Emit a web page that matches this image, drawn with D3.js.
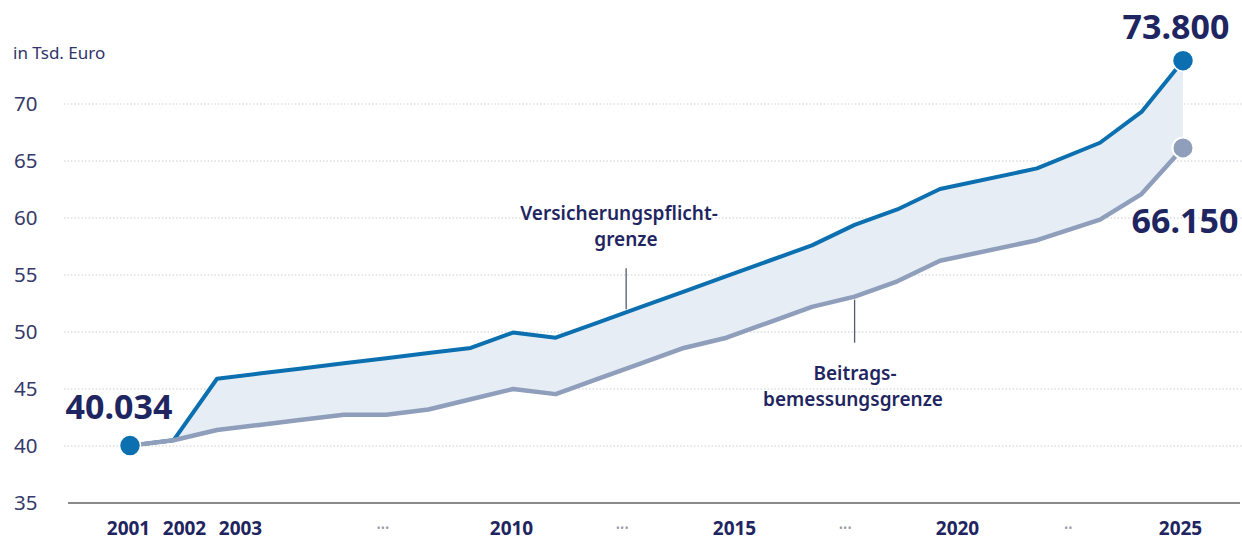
<!DOCTYPE html>
<html>
<head>
<meta charset="utf-8">
<script src="https://cdn.jsdelivr.net/npm/d3@7"></script>
<style>
  html, body { margin: 0; padding: 0; background: #fff; }
  svg { display: block; font-family: "Noto Sans", "Open Sans", sans-serif; }
</style>
</head>
<body>
<svg id="chart"></svg>
<script>
// Daten (in Tsd. Euro)
const years = [2001, 2002, 2003, 2004, 2005, 2006, 2007, 2008, 2009, 2010, 2011, 2012,
  2013, 2014, 2015, 2016, 2017, 2018, 2019, 2020, 2022, 2023, 2024, 2025]
const versicherungspflicht = [40.034, 40.5, 45.9, 46.35, 46.8, 47.25, 47.7, 48.15, 48.6, 49.95, 49.5, 50.85,
  52.2, 53.55, 54.9, 56.25, 57.6, 59.4, 60.75, 62.55, 64.35, 66.6, 69.3, 73.8]
const beitragsbemessung = [40.034, 40.5, 41.4, 41.85, 42.3, 42.75, 42.75, 43.2, 44.1, 45.0, 44.55, 45.9,
  47.25, 48.6, 49.5, 50.85, 52.2, 53.1, 54.45, 56.25, 58.05, 59.85, 62.1, 66.15]
const yTicks = [35, 40, 45, 50, 55, 60, 65, 70]
const xTickLabels = [2001, 2002, 2003, 2010, 2015, 2020, 2025]
const gapMarks = [[2006.7, "•••"], [2012.5, "•••"], [2017.5, "•••"], [2022.5, "••"]]

const width = 1242
const height = 540
const navy = "#1e2560"
const blue = "#0b6fb0"
const grey = "#8e9ebb"

const data = years.map((y, i) => ({year: y, v: versicherungspflicht[i], b: beitragsbemessung[i]}))

// Skalen
const x = d3.scaleLinear()
  .domain([2001, 2003, 2010, 2020, 2022, 2023, 2025])
  .range([130, 217, 513, 940, 1037, 1100, 1183])

const xLabel = d3.scaleLinear()
  .domain([2001, 2003, 2010, 2025])
  .range([128, 240, 511, 1180])

const y = d3.scaleLinear()
  .domain([35, 70])
  .range([503, 104])

const svg = d3.select("#chart")
  .attr("width", width)
  .attr("height", height)
  .attr("viewBox", [0, 0, width, height])

// Gitterlinien
svg.append("g")
  .selectAll("line")
  .data(yTicks.filter(d => d > 35))
  .join("line")
  .attr("x1", 64)
  .attr("x2", width)
  .attr("y1", d => y(d))
  .attr("y2", d => y(d))
  .attr("stroke", "#c9cdd6")
  .attr("stroke-width", 1)
  .attr("stroke-dasharray", "1.5,2")

// Y-Achse
svg.append("g")
  .selectAll("text")
  .data(yTicks)
  .join("text")
  .attr("x", 14)
  .attr("y", d => y(d))
  .attr("dy", "0.35em")
  .attr("fill", "#353a6a")
  .attr("font-size", 20.5)
  .text(d => d)

svg.append("text")
  .attr("x", 13)
  .attr("y", 59)
  .attr("fill", "#2e3468")
  .attr("font-size", 17)
  .text("in Tsd. Euro")

// Grundlinie
svg.append("line")
  .attr("x1", 68)
  .attr("x2", 1240)
  .attr("y1", y(35))
  .attr("y2", y(35))
  .attr("stroke", "#8a8a8a")
  .attr("stroke-width", 2)

// X-Achse
const xAxis = g => g
  .attr("transform", `translate(0,${y(35)})`)
  .call(d3.axisBottom(xLabel).tickValues(xTickLabels).tickFormat(d3.format("d")).tickSize(0))
  .call(g => g.select(".domain").remove())
  .call(g => g.selectAll(".tick text")
    .attr("y", 32)
    .attr("dy", 0)
    .attr("fill", navy)
    .attr("font-size", 19)
    .attr("font-weight", "bold")
    .attr("font-family", "'Noto Sans', sans-serif"))

svg.append("g").call(xAxis)

svg.append("g")
  .selectAll("text")
  .data(gapMarks)
  .join("text")
  .attr("x", d => xLabel(d[0]))
  .attr("y", 532)
  .attr("text-anchor", "middle")
  .attr("fill", "#9a9aa4")
  .attr("font-size", 10)
  .attr("letter-spacing", 0.5)
  .text(d => d[1])

// Fläche zwischen den Linien
svg.append("path")
  .datum(data)
  .attr("fill", "#e6edf5")
  .attr("d", d3.area().x(d => x(d.year)).y0(d => y(d.b)).y1(d => y(d.v)))

// Linien
svg.append("path")
  .datum(data)
  .attr("fill", "none")
  .attr("stroke", blue)
  .attr("stroke-width", 4)
  .attr("stroke-linejoin", "round")
  .attr("d", d3.line().x(d => x(d.year)).y(d => y(d.v)))

svg.append("path")
  .datum(data)
  .attr("fill", "none")
  .attr("stroke", grey)
  .attr("stroke-width", 4.5)
  .attr("stroke-linejoin", "round")
  .attr("d", d3.line().x(d => x(d.year)).y(d => y(d.b)))

// Punkte
const first = data[0]
const last = data[data.length - 1]

svg.append("circle")
  .attr("cx", x(first.year)).attr("cy", y(first.v)).attr("r", 10.5)
  .attr("fill", blue).attr("stroke", "#fff").attr("stroke-width", 1.5)

svg.append("circle")
  .attr("cx", x(last.year)).attr("cy", y(last.b)).attr("r", 10.5)
  .attr("fill", grey).attr("stroke", "#fff").attr("stroke-width", 2)

svg.append("circle")
  .attr("cx", x(last.year)).attr("cy", y(last.v)).attr("r", 10.5)
  .attr("fill", blue).attr("stroke", "#fff").attr("stroke-width", 1.5)

// Wertbeschriftungen
const valueLabel = (tx, ty, v) => svg.append("text")
  .attr("x", tx).attr("y", ty)
  .attr("text-anchor", "middle")
  .attr("fill", navy)
  .attr("font-size", 34)
  .attr("font-weight", "bold")
  .text(d3.format(".3f")(v))

valueLabel(x(first.year) - 11, y(first.v) - 27, first.v)
valueLabel(x(last.year) - 7, y(last.v) - 22, last.v)
valueLabel(x(last.year) + 2, y(last.b) + 85, last.b)

// Annotationen
function annotate(year, val, lines, lx, ly, up) {
  const px = x(year)
  const py = y(val)
  svg.append("line")
    .attr("x1", px).attr("x2", px)
    .attr("y1", up ? py - 3 : py + 3)
    .attr("y2", up ? py - 44 : py + 46)
    .attr("stroke", "#555a70")
    .attr("stroke-width", 1.3)
  svg.append("text")
    .attr("text-anchor", "middle")
    .attr("fill", navy)
    .attr("font-size", 19)
    .attr("font-weight", 600)
    .selectAll("tspan")
    .data(lines)
    .join("tspan")
    .attr("x", (d, i) => lx[i])
    .attr("y", (d, i) => ly + i * 26)
    .text(d => d)
}

annotate(2012.65, 51.73, ["Versicherungspflicht-", "grenze"], [619, 626], 220, true)
annotate(2018, 53.1, ["Beitrags-", "bemessungsgrenze"], [855, 853], 380, false)
</script>
</body>
</html>
